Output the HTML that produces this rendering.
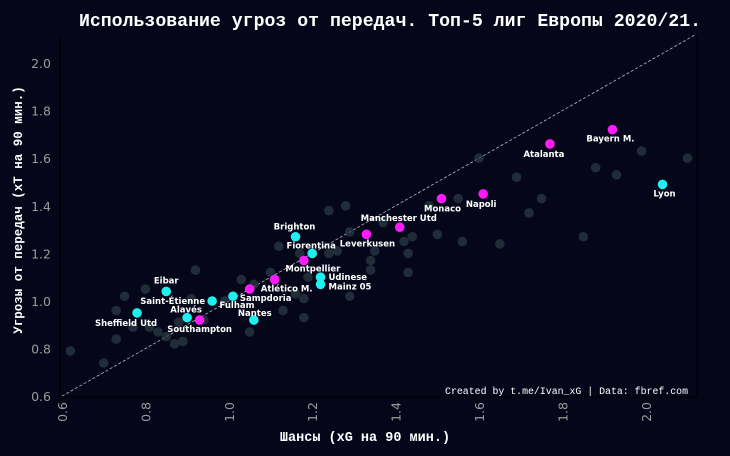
<!DOCTYPE html>
<html><head><meta charset="utf-8"><style>
html,body{margin:0;padding:0;background:#05061a;}
svg{display:block;}
</style></head><body>
<svg id="chart" width="730" height="456" viewBox="0 0 730 456" xmlns="http://www.w3.org/2000/svg">
<rect x="0" y="0" width="730" height="456" fill="#05061a"/>
<text x="390" y="26" text-anchor="middle" fill="#ffffff" font-family="Liberation Mono, DejaVu Sans Mono, monospace" font-weight="bold" font-size="18.2">Использование угроз от передач. Топ-5 лиг Европы 2020/21.</text>
<line x1="60" y1="35" x2="60" y2="397" stroke="#000" stroke-width="1.2"/>
<line x1="60" y1="397" x2="697" y2="397" stroke="#000" stroke-width="1.2"/>
<line x1="697" y1="35" x2="697" y2="397" stroke="#000" stroke-width="1.2"/>
<g id="ticks"></g>
<g id="diag"></g>
<g id="grey"></g>
<g id="teams"></g>
<text x="365" y="441" text-anchor="middle" fill="#fff" font-family="Liberation Mono, DejaVu Sans Mono, monospace" font-weight="bold" font-size="13.5">Шансы (xG на 90 мин.)</text>
<text transform="translate(22,210) rotate(-90)" text-anchor="middle" fill="#fff" font-family="Liberation Mono, DejaVu Sans Mono, monospace" font-weight="bold" font-size="12.5">Угрозы от передач (xT  на 90 мин.)</text>
<text x="688" y="394" text-anchor="end" fill="#fff" font-family="Liberation Mono, DejaVu Sans Mono, monospace" font-size="9.9">Created by t.me/Ivan_xG | Data: fbref.com</text>
</svg>
<script>
const xTicks = [0.6, 0.8, 1.0, 1.2, 1.4, 1.6, 1.8, 2.0];
const yTicks = [0.6, 0.8, 1.0, 1.2, 1.4, 1.6, 1.8, 2.0];
const greyX = [0.62,0.70,0.73,0.73,0.75,0.80,0.92,1.03,1.06,1.10,1.12,1.24,1.28,1.24,1.26,1.18,1.18,1.13,1.05,1.16,0.89,0.87,0.85,0.83,0.77,0.81,0.88,0.94,0.91,0.99,1.19,1.29,1.99,2.10,1.88,1.93,1.69,1.60,1.75,1.72,1.55,1.85,1.65,1.56,1.50,1.44,1.42,1.43,1.43,1.34,1.34,1.35,1.29,1.37,1.48,1.17];
const greyY = [0.79,0.74,0.84,0.96,1.02,1.05,1.13,1.09,1.07,1.12,1.23,1.38,1.40,1.20,1.21,1.01,0.93,0.96,0.87,1.03,0.83,0.82,0.85,0.87,0.89,0.89,0.91,0.92,1.01,1.00,1.10,1.02,1.63,1.60,1.56,1.53,1.52,1.60,1.43,1.37,1.43,1.27,1.24,1.25,1.28,1.27,1.25,1.20,1.12,1.17,1.13,1.21,1.29,1.33,1.40,1.20];
const teamNames = ["Bayern M.","Atalanta","Lyon","Napoli","Monaco","Manchester Utd","Leverkusen","Brighton","Fiorentina","Montpellier","Udinese","Mainz 05","Atlético M.","Sampdoria","Fulham","Saint-Étienne","Alavés","Southampton","Sheffield Utd","Eibar","Nantes"];
const teamX = [1.92,1.77,2.04,1.61,1.51,1.41,1.33,1.16,1.20,1.18,1.22,1.22,1.11,1.05,1.01,0.96,0.90,0.93,0.78,0.85,1.06];
const teamY = [1.72,1.66,1.49,1.45,1.43,1.31,1.28,1.27,1.20,1.17,1.10,1.07,1.09,1.05,1.02,1.00,0.93,0.92,0.95,1.04,0.92];
const teamGroup = ["m","m","c","m","m","m","m","c","c","m","c","c","m","m","c","c","c","m","c","c","c"];
// label placement offsets (px) and anchors
const labelDX = [-2,-6,2,-2,1,-1,1,-1,-1,9,8,8,12,16,4,-7,-1,0,-11,0,1];
const labelDY = [12,13,12,13,13,-6,12,-7,-5,11,3,5,12,12,12,3,-5,12,13,-8,-4];
const labelAnchor = ["middle","middle","middle","middle","middle","middle","middle","middle","middle","middle","start","start","middle","middle","middle","end","middle","middle","middle","middle","middle"];

const NS = "http://www.w3.org/2000/svg";
const X0 = 62, XS = 417, Y0 = 63, YS = 238;
function sx(v){ return X0 + (v - 0.6) * XS; }
function sy(v){ return Y0 + (2.0 - v) * YS; }
function mk(tag, attrs, parent){ const e = document.createElementNS(NS, tag); for (const k in attrs) e.setAttribute(k, attrs[k]); parent.appendChild(e); return e; }

const ticks = document.getElementById('ticks');
xTicks.forEach(v => {
  const t = mk('text', {x: 0, y: 0, transform: `translate(${sx(v)+5},${402}) rotate(-90)`, 'text-anchor': 'end', fill: '#9a9a9a', 'font-family': 'DejaVu Sans, Liberation Sans, sans-serif', 'font-size': '12.5'}, ticks);
  
  
  t.textContent = v.toFixed(1);
});
yTicks.forEach(v => {
  const t = mk('text', {x: 51, y: sy(v) + 5, 'text-anchor': 'end', fill: '#9a9a9a', 'font-family': 'DejaVu Sans, Liberation Sans, sans-serif', 'font-size': '12.5'}, ticks);
  
  
  t.textContent = v.toFixed(1);
});

const diag = document.getElementById('diag');
const dl = mk('line', {x1: sx(0.6), y1: sy(0.6), x2: sx(2.12), y2: sy(2.12), stroke: '#bbbbbb', 'stroke-width': 0.8, 'stroke-dasharray': '3,2'}, diag);



const grey = document.getElementById('grey');
greyX.forEach((v, i) => {
  const c = mk('circle', {cx: sx(v), cy: sy(greyY[i]), r: 4.8, fill: '#2a3942', 'fill-opacity': 0.75}, grey);
  
  
});

const teams = document.getElementById('teams');
teamNames.forEach((n, i) => {
  const px = sx(teamX[i]), py = sy(teamY[i]);
  const c = mk('circle', {cx: px, cy: py, r: 4.8, fill: teamGroup[i] === 'm' ? '#ff1aff' : '#1ef0f0'}, teams);
  
  
  const t = mk('text', {x: px + labelDX[i], y: py + labelDY[i], 'text-anchor': labelAnchor[i], fill: '#ffffff', 'font-family': 'DejaVu Sans, Liberation Sans, sans-serif', 'font-weight': 'bold', 'font-size': '8.5'}, teams);
  
  
  t.textContent = n;
});
</script>
</body></html>
